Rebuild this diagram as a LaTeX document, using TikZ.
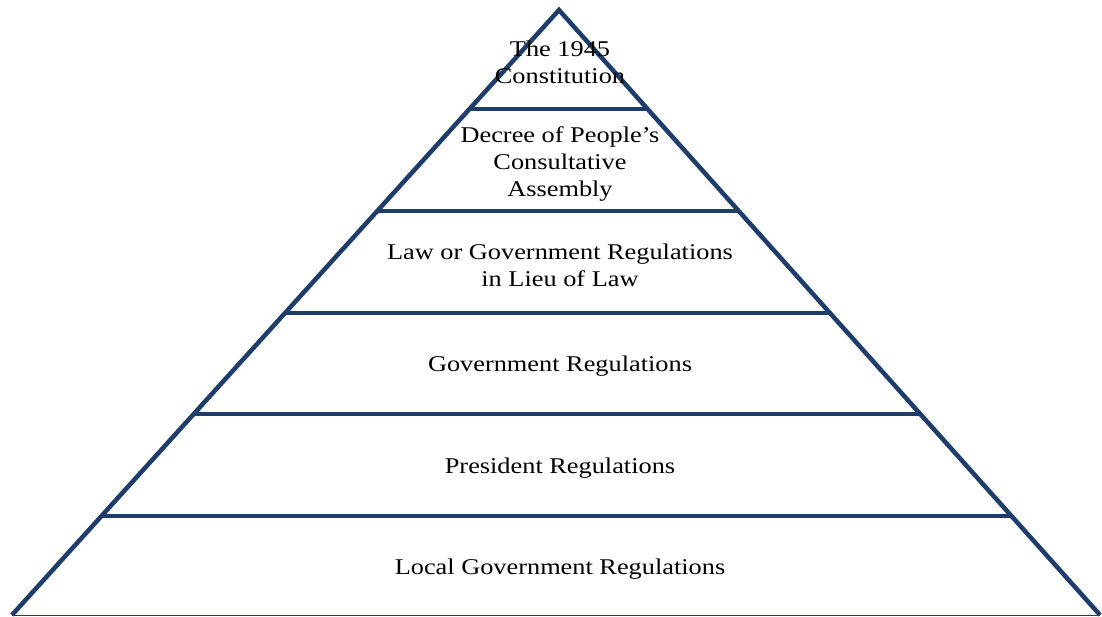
\documentclass[tikz,border=0pt]{standalone}
\usepackage{fontspec}
\setmainfont[FakeStretch=1.17]{Liberation Serif}
\usetikzlibrary{calc}
\definecolor{pyrblue}{HTML}{1F3D6B}
\tikzset{
  layer/.style={draw=pyrblue, line width=4.5pt},
  label/.style={align=center, font=\fontsize{22.5}{27}\selectfont}
}
\begin{document}
\begin{tikzpicture}[x=1pt,y=-1pt]

  \useasboundingbox (0,0) rectangle (1102,616);

  \coordinate (apex) at (559,10);
  \coordinate (bl) at (12,615);
  \coordinate (br) at (1100,615);

  % sides and base
  \draw[layer, line join=miter] (bl) -- (apex) -- (br);
  \draw[pyrblue, line width=1pt] (bl) -- (br);

  % layer lines
  \foreach \y [count=\i] in {109,211,313,414,516} {
    \pgfmathsetmacro{\t}{(\y-10)/605}
    \draw[layer] ($(apex)!\t!(bl)$) -- ($(apex)!\t!(br)$);
  }

  \node[label] (constitution) at (560,62) {The 1945\\Constitution};
  \node[label] (decree) at (560,164) {Decree of People’s\\Consultative\\Assembly};
  \node[label] (law) at (560,265) {Law or Government Regulations\\in Lieu of Law};
  \node[label] (govreg) at (560,366) {Government Regulations};
  \node[label] (presreg) at (560,468) {President Regulations};
  \node[label] (localreg) at (560,569) {Local Government Regulations};

\end{tikzpicture}
\end{document}
